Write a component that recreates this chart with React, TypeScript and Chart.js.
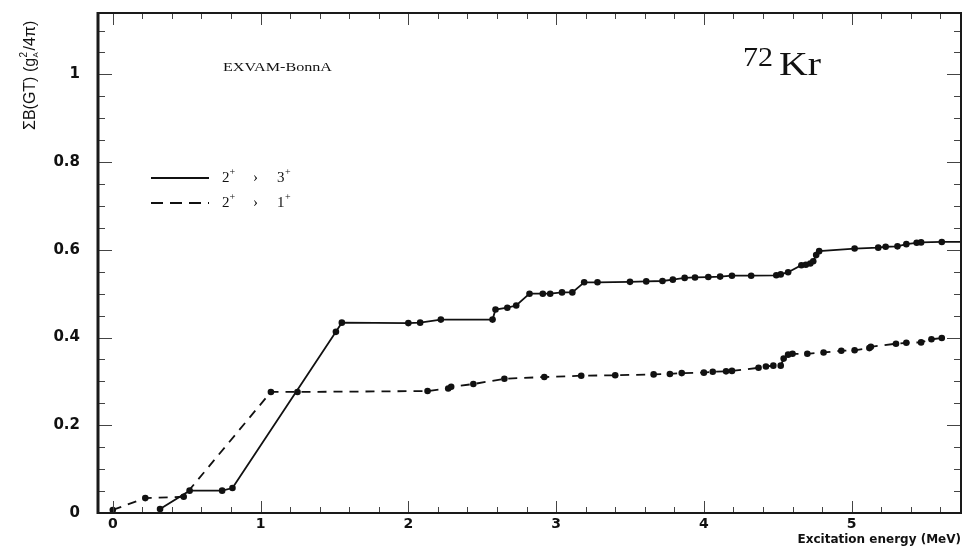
import React, { useEffect, useRef } from "react";
import { Chart, registerables } from "chart.js";

Chart.register(...registerables);

// ---- data ----
const solidX = [0.32, 0.52, 0.74, 0.81, 1.51, 1.55, 2.0, 2.08, 2.22, 2.57, 2.59, 2.67, 2.73, 2.82, 2.91, 2.96, 3.04, 3.11, 3.19, 3.28, 3.5, 3.61, 3.72, 3.79, 3.87, 3.94, 4.03, 4.11, 4.19, 4.32, 4.49, 4.52, 4.57, 4.66, 4.69, 4.72, 4.74, 4.76, 4.78, 5.02, 5.18, 5.23, 5.31, 5.37, 5.44, 5.47, 5.61, 5.74];
const solidY = [0.009, 0.051, 0.051, 0.057, 0.413, 0.434, 0.433, 0.434, 0.441, 0.441, 0.464, 0.468, 0.473, 0.5, 0.5, 0.5, 0.503, 0.503, 0.526, 0.526, 0.527, 0.528, 0.529, 0.532, 0.536, 0.537, 0.538, 0.539, 0.541, 0.541, 0.542, 0.544, 0.549, 0.565, 0.566, 0.569, 0.574, 0.588, 0.597, 0.603, 0.605, 0.607, 0.608, 0.613, 0.616, 0.617, 0.618, 0.618];

const dashedX = [0.0, 0.22, 0.48, 1.07, 1.25, 2.13, 2.27, 2.29, 2.44, 2.65, 2.92, 3.17, 3.4, 3.66, 3.77, 3.85, 4.0, 4.06, 4.15, 4.19, 4.37, 4.42, 4.47, 4.52, 4.54, 4.57, 4.6, 4.7, 4.81, 4.93, 5.02, 5.12, 5.13, 5.3, 5.37, 5.47, 5.54, 5.61];
const dashedY = [0.007, 0.034, 0.037, 0.276, 0.276, 0.278, 0.284, 0.288, 0.294, 0.306, 0.31, 0.313, 0.314, 0.316, 0.317, 0.319, 0.32, 0.322, 0.323, 0.324, 0.331, 0.334, 0.336, 0.336, 0.352, 0.361, 0.363, 0.363, 0.366, 0.37, 0.371, 0.376, 0.379, 0.386, 0.388, 0.389, 0.396, 0.399];

const xTickValues = [0, 1, 2, 3, 4, 5];
const yTickValues = [0, 0.2, 0.4, 0.6, 0.8, 1];
const legendRows = [
  { from: "2", to: "3", dashed: false },
  { from: "2", to: "1", dashed: true },
];
const modelLabel = "EXVAM-BonnA";
const massNumber = "72";
const element = "Kr";
const xTitle = "Excitation energy (MeV)";

const X_MIN = -0.1;
const X_MAX = 5.74;
const Y_MIN = 0;
const Y_MAX = 1.14;
const DASH = [9, 7];

function fitText(ctx: CanvasRenderingContext2D, text: string, x: number, y: number, font: string, width?: number) {
  ctx.save();
  ctx.font = font;
  ctx.textAlign = "left";
  ctx.textBaseline = "alphabetic";
  const w = ctx.measureText(text).width;
  ctx.translate(x, y);
  if (width && w > 0) ctx.scale(width / w, 1);
  ctx.fillText(text, 0, 0);
  ctx.restore();
}

const decorPlugin = {
  id: "decor",
  afterDraw(chart: any) {
    const ctx: CanvasRenderingContext2D = chart.ctx;
    const { left, right, top, bottom } = chart.chartArea;
    const xs = chart.scales.x;
    const ys = chart.scales.y;
    ctx.save();
    // ticks
    ctx.strokeStyle = "#444";
    ctx.lineWidth = 1;
    ctx.beginPath();
    for (let i = 0; i * 0.05 <= Y_MAX + 1e-9; i++) {
      const v = i * 0.05;
      const py = Math.round(ys.getPixelForValue(v)) + 0.5;
      const major = i % 4 === 0;
      const len = major ? 14 : 7;
      ctx.moveTo(left, py);
      ctx.lineTo(left + len, py);
      ctx.moveTo(right, py);
      ctx.lineTo(right - len, py);
    }
    for (let i = 0; i * 0.2 <= X_MAX + 1e-9; i++) {
      const v = i * 0.2;
      const px = Math.round(xs.getPixelForValue(v)) + 0.5;
      const major = i % 5 === 0;
      const len = major ? 12 : 6;
      ctx.moveTo(px, bottom);
      ctx.lineTo(px, bottom - len);
      ctx.moveTo(px, top);
      ctx.lineTo(px, top + len);
    }
    ctx.stroke();

    // frame
    ctx.strokeStyle = "#1a1a1a";
    ctx.lineWidth = 2;
    ctx.strokeRect(left, top, right - left, bottom - top);
    ctx.lineWidth = 3;
    ctx.beginPath();
    ctx.moveTo(left, top - 1);
    ctx.lineTo(left, bottom + 1);
    ctx.stroke();

    ctx.fillStyle = "#111";
    // annotations
    fitText(ctx, modelLabel, 223, 71, "13.5px 'Liberation Serif'", 109);
    fitText(ctx, massNumber, 743, 66, "27px 'Liberation Serif'", 30);
    fitText(ctx, element, 779, 75, "33px 'Liberation Serif'", 42);

    // legend
    legendRows.forEach((row, i) => {
      const ly = 178 + i * 25;
      ctx.save();
      ctx.strokeStyle = "#111";
      ctx.lineWidth = 2;
      ctx.setLineDash(row.dashed ? [12, 7] : []);
      ctx.beginPath();
      ctx.moveTo(151, ly);
      ctx.lineTo(209, ly);
      ctx.stroke();
      ctx.restore();
      const base = ly + 4;
      fitText(ctx, row.from, 222, base, "15px 'Liberation Serif'");
      fitText(ctx, "+", 229.5, base - 7, "10px 'Liberation Serif'");
      fitText(ctx, "\u203A", 253, base, "15px 'Liberation Serif'");
      fitText(ctx, row.to, 277, base, "15px 'Liberation Serif'");
      fitText(ctx, "+", 285, base - 7, "10px 'Liberation Serif'");
    });

    // y title (rotated)
    ctx.save();
    ctx.translate(35, 130);
    ctx.rotate(-Math.PI / 2);
    ctx.textBaseline = "alphabetic";
    ctx.textAlign = "left";
    ctx.font = "16px 'Liberation Sans'";
    let cx = 0;
    const p1 = "\u03A3B(GT) (g";
    ctx.fillText(p1, cx, 0);
    cx += ctx.measureText(p1).width + 0.5;
    ctx.font = "10px 'Liberation Sans'";
    ctx.fillText("2", cx, -8);
    ctx.font = "8px 'Liberation Sans'";
    ctx.fillText("A", cx, 3);
    cx += 7;
    ctx.font = "16px 'Liberation Sans'";
    ctx.fillText("/4\u03C0)", cx, 0);
    ctx.restore();

    // x title
    ctx.font = "bold 12px 'DejaVu Sans'";
    ctx.textAlign = "right";
    ctx.textBaseline = "alphabetic";
    ctx.fillText(xTitle, 961, 543);
    ctx.restore();
  },
};

export default function App() {
  const ref = useRef<HTMLCanvasElement>(null);
  useEffect(() => {
    if (!ref.current) return;
    const solid = solidX.map((x, i) => ({ x, y: solidY[i] }));
    const dashed = dashedX.map((x, i) => ({ x, y: dashedY[i] }));
    const lastSolid = solid.length - 1;
    const chart = new Chart(ref.current, {
      type: "scatter",
      data: {
        datasets: [
          {
            label: "2+ > 3+",
            data: solid,
            showLine: true,
            borderColor: "#111",
            backgroundColor: "#111",
            borderWidth: 1.8,
            pointRadius: (c: any) => (c.dataIndex === lastSolid ? 0 : 3.3),
            pointBorderWidth: 0,
            pointBackgroundColor: "#111",
            tension: 0,
          },
          {
            label: "2+ > 1+",
            data: dashed,
            showLine: true,
            borderColor: "#111",
            backgroundColor: "#111",
            borderWidth: 1.8,
            borderDash: DASH,
            pointRadius: 3.3,
            pointBorderWidth: 0,
            pointBackgroundColor: "#111",
            tension: 0,
          },
        ],
      },
      options: {
        responsive: false,
        animation: false,
        devicePixelRatio: 1,
        layout: { padding: { left: 0, right: 4, top: 13, bottom: 0 } },
        plugins: { legend: { display: false }, tooltip: { enabled: false }, title: { display: false } },
        scales: {
          x: {
            type: "linear",
            min: X_MIN,
            max: X_MAX,
            grid: { display: false, drawTicks: false },
            border: { display: false },
            ticks: {
              stepSize: 1,
              includeBounds: false,
              autoSkip: false,
              maxRotation: 0,
              padding: 3,
              color: "#111",
              font: { family: "'DejaVu Sans'", weight: "bold", size: 14 },
              callback: (v: any) => (xTickValues.some((t) => Math.abs(t - v) < 1e-6) ? String(Math.round(v)) : ""),
            },
            afterFit: (s: any) => {
              s.height = 44;
              s.paddingLeft = 0;
              s.paddingRight = 0;
            },
          },
          y: {
            type: "linear",
            min: Y_MIN,
            max: Y_MAX,
            grid: { display: false, drawTicks: false },
            border: { display: false },
            ticks: {
              stepSize: 0.2,
              includeBounds: false,
              autoSkip: false,
              padding: 18,
              color: "#111",
              font: { family: "'DejaVu Sans'", weight: "bold", size: 15 },
              callback: (v: any) => {
                const t = yTickValues.find((q) => Math.abs(q - v) < 1e-6);
                return t === undefined ? "" : String(t);
              },
            },
            afterFit: (s: any) => {
              s.width = 98;
              s.paddingTop = 0;
              s.paddingBottom = 0;
            },
          },
        },
      },
      plugins: [decorPlugin],
    } as any);
    return () => chart.destroy();
  }, []);
  return (
    <div style={{ position: "absolute", left: 0, top: 0, width: 965, height: 557, background: "#fff" }}>
      <canvas ref={ref} width={965} height={557} style={{ display: "block", width: 965, height: 557 }} />
    </div>
  );
}
